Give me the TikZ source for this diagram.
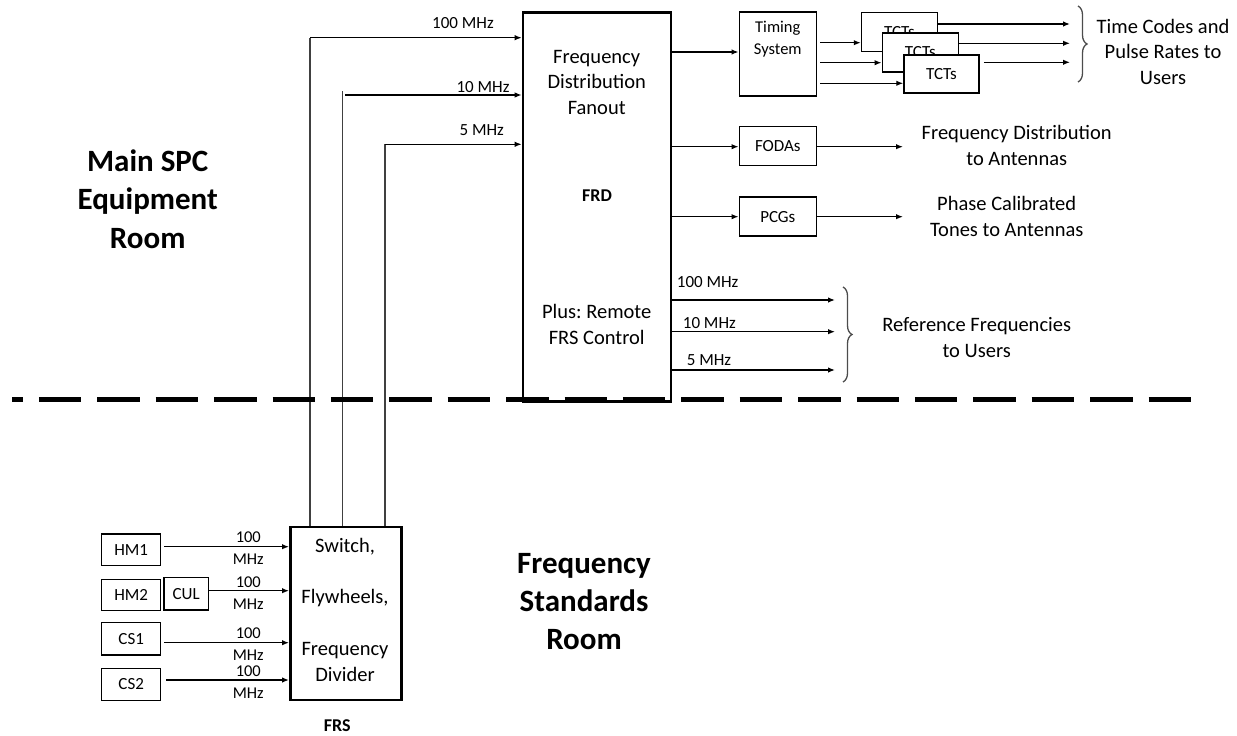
\documentclass[tikz,border=0pt]{standalone}
\usepackage{fontspec}
\setmainfont{Carlito}
\usetikzlibrary{arrows.meta,decorations.pathreplacing,calc}
\frenchspacing
\newcommand\fntS{\fontsize{17}{21}\selectfont}
\newcommand\fntT{\fontsize{16.5}{21.5}\selectfont}
\newcommand\fntM{\fontsize{20.5}{25.5}\selectfont}
\newcommand\fntSB{\fontsize{18}{22}\selectfont\bfseries}
\newcommand\fntB{\fontsize{31}{38.3}\selectfont\bfseries}
\begin{document}
\begin{tikzpicture}[x=1pt,y=-1pt,
  box/.style={draw, line width=1.5pt, fill=white, inner sep=0pt, font=\fntS},
  bigbox/.style={draw, line width=2.6pt, fill=white, inner sep=0pt},
  arr/.style={line width=1.3pt, -{Latex[length=7pt,width=5.5pt]}},
  feed/.style={line width=1.3pt, draw=black!75},
  lbl/.style={inner sep=0pt, align=center, font=\fntM},
  slbl/.style={inner sep=0pt, align=center, font=\fntS},
  blbl/.style={inner sep=0pt, align=center, font=\fntB},
  brc/.style={decorate, decoration={brace, amplitude=9pt}, line width=1.3pt, draw=black!70}]
\useasboundingbox (0,0) rectangle (1237,736);

% main boxes
\node[bigbox, minimum width=148pt, minimum height=389pt] (frd) at (597,207) {};
\node[bigbox, minimum width=111pt, minimum height=173pt] (frs) at (345.8,613.3) {};

% FRD texts
\node[lbl] (frdt) at (596.7,82) {Frequency\\Distribution\\Fanout};
\node[inner sep=0pt, font=\fntSB] (frdl) at (597,196) {FRD};
\node[lbl] (plus) at (596.7,324.5) {Plus: Remote\\FRS Control};

% FRS texts
\node[lbl] (sw) at (345,546.7) {Switch,};
\node[lbl] (fly) at (345,598.3) {Flywheels,};
\node[lbl] (fdiv) at (345,662) {Frequency\\Divider};
\node[inner sep=0pt, font=\fntSB] (frsl) at (337.3,726) {FRS};

% feeds FRS -> FRD
\draw[feed] (frs.north -| 310,0) -- (310,37.7);
\draw[arr] (310,37.7) -- (frd.west |- 0,37.7);
\draw[feed] (frs.north -| 342.5,0) -- (342.5,91);
\draw[arr] (345,95) -- (frd.west |- 0,95);
\draw[feed] (frs.north -| 385,0) -- (385,144.3);
\draw[arr] (385,144.3) -- (frd.west |- 0,144.3);
\node[slbl] (l100a) at (463,23.3) {100 MHz};
\node[slbl] (l10a) at (483,86.7) {10 MHz};
\node[slbl] (l5a) at (481.7,130) {5 MHz};

% timing system and TCTs
\node[box, minimum width=77pt, minimum height=84pt] (tim) at (777.8,54) {};
\node[inner sep=0pt, align=center, font=\fontsize{16.5}{21.7}\selectfont] (timt) at (777.8,39.2) {Timing\\System};
\node[box, minimum width=76pt, minimum height=39pt] (tct1) at (899.5,31.8) {TCTs};
\node[box, minimum width=76pt, minimum height=39pt] (tct2) at (920.3,52.5) {TCTs};
\node[box, minimum width=75pt, minimum height=38pt] (tct3) at (941.5,74) {TCTs};
\draw[arr] (frd.east |- 0,52) -- (tim.west |- 0,52);
\draw[arr] ([xshift=3pt]tim.east |- 0,42.7) -- (tct1.west |- 0,42.7);
\draw[arr] ([xshift=3pt]tim.east |- 0,62.7) -- (tct2.west |- 0,62.7);
\draw[arr] ([xshift=3pt]tim.east |- 0,83.3) -- (tct3.west |- 0,83.3);
\coordinate (o1) at (1070,24);
\coordinate (o2) at (1070,43.3);
\coordinate (o3) at (1070,62.3);
\draw[arr] (tct1.east |- o1) -- (o1);
\draw[arr] (tct2.east |- o2) -- (o2);
\draw[arr] ([xshift=4pt]tct3.east |- o3) -- (o3);
\coordinate (b1t) at (1078,6);
\coordinate (b1b) at (1078,82);
\draw[brc] (b1t) -- (b1b);
\node[lbl] (tcu) at (1163,51.5) {Time Codes and\\Pulse Rates to\\Users};

% FODAs
\node[box, minimum width=77pt, minimum height=39pt] (foda) at (777.8,146.2) {FODAs};
\coordinate (fo) at (903,146.7);
\draw[arr] (frd.east |- fo) -- (foda.west |- fo);
\draw[arr] (foda.east |- fo) -- (fo);
\node[lbl] (fdt) at (1016.7,145.7) {Frequency Distribution\\to Antennas};

% PCGs
\node[box, minimum width=77pt, minimum height=39pt] (pcg) at (777.8,216.7) {PCGs};
\coordinate (po) at (903,216.7);
\draw[arr] (frd.east |- po) -- (pcg.west |- po);
\draw[arr] (pcg.east |- po) -- (po);
\node[lbl] (pct) at (1006.7,216.7) {Phase Calibrated\\Tones to Antennas};

% reference frequencies
\coordinate (r1) at (835,300);
\coordinate (r2) at (835,331.7);
\coordinate (r3) at (835,370);
\draw[arr] (frd.east |- r1) -- (r1);
\draw[arr] (frd.east |- r2) -- (r2);
\draw[arr] (frd.east |- r3) -- (r3);
\node[slbl, anchor=west] (l100b) at (676.7,281.7) {100 MHz};
\node[slbl, anchor=west] (l10b) at (682.7,322.7) {10 MHz};
\node[slbl, anchor=west] (l5b) at (686.7,360) {5 MHz};
\coordinate (b2t) at (843,287);
\coordinate (b2b) at (843,382);
\draw[brc] (b2t) -- (b2b);
\node[lbl] (rft) at (976.7,337.5) {Reference Frequencies\\to Users};

% frequency standards
\node[box, minimum width=59pt, minimum height=31.7pt] (hm1) at (131.2,549.8) {HM1};
\node[box, minimum width=59pt, minimum height=31.4pt] (hm2) at (131.2,595) {HM2};
\node[box, minimum width=44.3pt, minimum height=32.3pt] (cul) at (186.2,593.8) {CUL};
\node[box, minimum width=59pt, minimum height=32.3pt] (cs1) at (131.2,638.8) {CS1};
\node[box, minimum width=59pt, minimum height=32.4pt] (cs2) at (131.2,684.5) {CS2};
\draw[arr] ([xshift=3pt]hm1.east |- 0,546.7) -- (frs.west |- 0,546.7);
\draw[arr] (cul.east |- 0,590.7) -- (frs.west |- 0,590.7);
\draw[arr] ([xshift=3pt]cs1.east |- 0,642.7) -- (frs.west |- 0,642.7);
\draw[arr] ([xshift=5pt]cs2.east |- 0,680) -- (frs.west |- 0,680);
\node[inner sep=0pt, align=center, font=\fntT] (m1) at (248.3,548) {100\\MHz};
\node[inner sep=0pt, align=center, font=\fntT] (m2) at (248.3,593.3) {100\\MHz};
\node[inner sep=0pt, align=center, font=\fntT] (m3) at (248.3,644) {100\\MHz};
\node[inner sep=0pt, align=center, font=\fntT] (m4) at (248.3,682) {100\\MHz};

% room labels
\node[blbl] (main) at (147.7,199) {Main SPC\\Equipment\\Room};
\node[blbl] (fsr) at (584,601.7) {Frequency\\Standards\\Room};

% dashed divider
\coordinate (d1) at (12,399.5);
\coordinate (d2) at (1192,399.5);
\draw[line width=5pt, dash pattern=on 42.5pt off 15.9pt, dash phase=31.5pt] (d1) -- (d2);
\end{tikzpicture}
\end{document}
